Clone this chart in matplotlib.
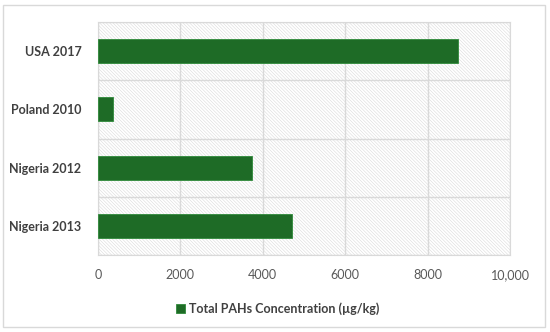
import matplotlib
matplotlib.use("Agg")
import matplotlib.pyplot as plt
from matplotlib.patches import Rectangle

categories = ["Nigeria 2013", "Nigeria 2012", "Poland 2010", "USA 2017"]
values = [4700, 3740, 360, 8740]
xticks = [0, 2000, 4000, 6000, 8000, 10000]
xtick_labels = ["0", "2000", "4000", "6000", "8000", "10,000"]
series_name = "Total PAHs Concentration (µg/kg)"

green = "#1e6b26"
plt.rcParams["font.family"] = ["Lato", "DejaVu Sans"]
plt.rcParams["hatch.linewidth"] = 0.4

fig = plt.figure(figsize=(5.5, 3.32), dpi=100)
# outer frame
fig.patches.append(Rectangle((3 / 550, 5 / 332), 542 / 550, 322 / 332, transform=fig.transFigure,
                             fill=False, edgecolor="#d9d9d9", linewidth=1.0))

ax = fig.add_axes([98 / 550, 77 / 332, 412 / 550, 233 / 332])
ax.add_patch(Rectangle((0, 0), 1, 1, transform=ax.transAxes, facecolor="white",
                       edgecolor="#dadada", hatch="\\" * 10, linewidth=0, zorder=0))

ax.barh(categories, values, height=0.41, color=green, edgecolor="#2f8a3a", linewidth=0.6,
        label=series_name, zorder=3)

ax.set_xlim(0, 10000)
ax.set_ylim(-0.5, 3.5)
ax.set_xticks(xticks)
ax.set_xticklabels(xtick_labels, color="#595959", fontsize=9)
ax.set_yticks([-0.5, 0.5, 1.5, 2.5, 3.5], minor=True)
ax.grid(True, axis="x", color="#d9d9d9", linewidth=1, zorder=1)
ax.grid(True, axis="y", which="minor", color="#d9d9d9", linewidth=1, zorder=1)
ax.tick_params(axis="both", which="both", length=0)
ax.tick_params(axis="x", pad=10)
ax.tick_params(axis="y", pad=12)
for lab in ax.get_yticklabels():
    lab.set_fontweight("bold")
    lab.set_color("#404040")
    lab.set_fontsize(9)
for s in ax.spines.values():
    s.set_color("#d9d9d9")

leg = fig.legend(loc="center", bbox_to_anchor=(0.505, 23 / 332), frameon=False,
                 handlelength=0.7, handleheight=0.7, handletextpad=0.3,
                 prop={"weight": "bold", "size": 9})
for t in leg.get_texts():
    t.set_color("#404040")

fig.savefig("out.png", dpi=100)
